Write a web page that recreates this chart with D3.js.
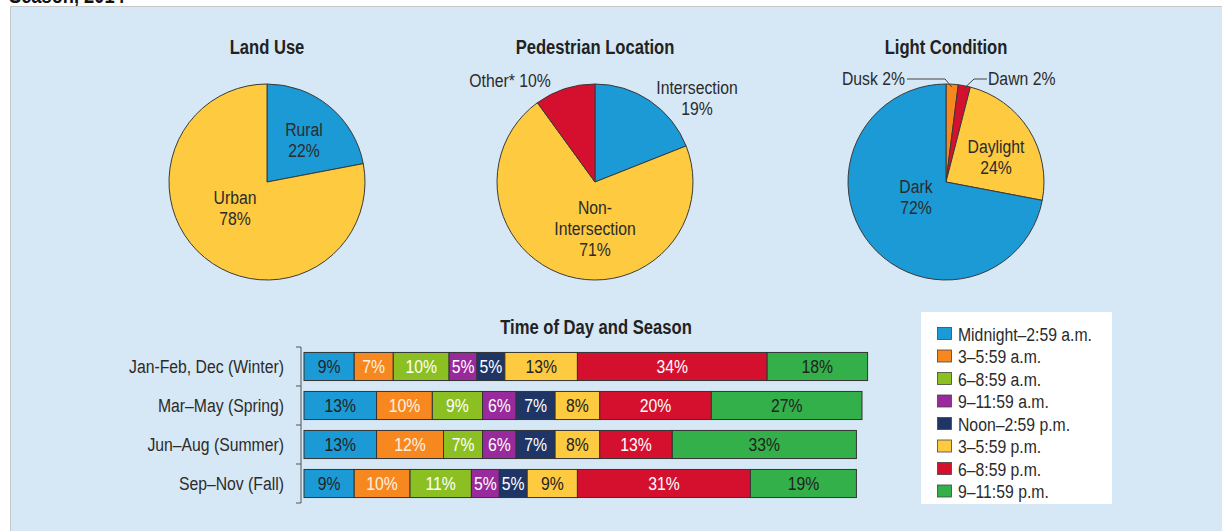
<!DOCTYPE html>
<html>
<head>
<meta charset="utf-8">
<script src="https://cdn.jsdelivr.net/npm/d3@7"></script>
<style>
  body { margin: 0; background: #fff; }
  svg text { font-family: "Liberation Sans", Arial, "DejaVu Sans Condensed", sans-serif; }
</style>
</head>
<body>
<div id="chart"></div>
<script>
// ---- data ----
var landUseLabels = ["Rural", "Urban"];
var landUseValues = [22, 78];

var pedLabels = ["Intersection", "Non-Intersection", "Other*"];
var pedValues = [19, 71, 10];

var lightLabels = ["Dusk", "Dawn", "Daylight", "Dark"];
var lightValues = [2, 2, 24, 72];

var seasons = ["Jan-Feb, Dec (Winter)", "Mar\u2013May (Spring)", "Jun\u2013Aug (Summer)", "Sep\u2013Nov (Fall)"];
var timeSlots = ["Midnight\u20132:59 a.m.", "3\u20135:59 a.m.", "6\u20138:59 a.m.", "9\u201311:59 a.m.",
                 "Noon\u20132:59 p.m.", "3\u20135:59 p.m.", "6\u20138:59 p.m.", "9\u201311:59 p.m."];
var winterValues = [9, 7, 10, 5, 5, 13, 34, 18];
var springValues = [13, 10, 9, 6, 7, 8, 20, 27];
var summerValues = [13, 12, 7, 6, 7, 8, 13, 33];
var fallValues   = [9, 10, 11, 5, 5, 9, 31, 19];

// ---- colours ----
var cBlue = "#1b9ad6", cOrange = "#f7871f", cLime = "#8cbf22", cPurple = "#992a9b",
    cNavy = "#1f3566", cYellow = "#fdca40", cRed = "#d5102f", cGreen = "#33b04a";
var slotColors = [cBlue, cOrange, cLime, cPurple, cNavy, cYellow, cRed, cGreen];
var slotTextColors = ["#222", "#fff3e0", "#fff", "#fff", "#fff", "#222", "#fff", "#222"];
var textColor = "#2b2b2b";
var fs = 18;   // regular label size

var W = 1222, H = 531;
var svg = d3.select("#chart").append("svg")
    .attr("width", W)
    .attr("height", H);

// cut-off page title + panel
svg.append("text")
    .attr("class", "bold")
    .attr("x", 9).attr("y", 3)
    .attr("font-size", 22).attr("font-weight", "bold").attr("fill", "#111")
    .text("Season, 2014");

svg.append("rect")
    .attr("x", 10.5).attr("y", 6.5)
    .attr("width", W).attr("height", H)
    .attr("fill", "#d6e8f5")
    .attr("stroke", "#c4c9cc");

// ---- pies ----
var radius = 98;
var pie = d3.pie().sort(null).value(function(d) { return d; });
var arc = d3.arc().innerRadius(0).outerRadius(radius);

function drawPie(cx, title, values, colors, labels) {
    var g = svg.append("g").attr("transform", "translate(" + cx + ",182)");
    svg.append("text")
        .attr("class", "bold")
        .attr("x", cx).attr("y", 54)
        .attr("text-anchor", "middle")
        .attr("font-size", 20).attr("font-weight", "bold").attr("fill", "#222")
        .text(title);
    var arcs = pie(values);
    g.selectAll("path")
        .data(arcs)
        .enter()
        .append("path")
        .attr("d", arc)
        .attr("fill", function(d, i) { return colors[i]; })
        .attr("stroke", "#3a3a3a")
        .attr("stroke-width", 1);
    // labels: one text per line, offsets relative to the pie centre
    labels.forEach(function(l) {
        l.lines.forEach(function(line, k) {
            g.append("text")
                .attr("class", "reg")
                .attr("x", l.dx)
                .attr("y", l.dy + k * 21)
                .attr("text-anchor", l.anchor || "middle")
                .attr("font-size", fs)
                .attr("fill", textColor)
                .text(line);
        });
    });
    return { g: g, arcs: arcs };
}

drawPie(267, "Land Use", landUseValues, [cBlue, cYellow], [
    { lines: [landUseLabels[0], landUseValues[0] + "%"], dx: 37, dy: -46 },
    { lines: [landUseLabels[1], landUseValues[1] + "%"], dx: -32, dy: 22 }
]);

drawPie(595, "Pedestrian Location", pedValues, [cBlue, cYellow, cRed], [
    { lines: [pedLabels[0], pedValues[0] + "%"], dx: 102, dy: -88 },
    { lines: ["Non-", "Intersection", pedValues[1] + "%"], dx: 0, dy: 32 },
    { lines: [pedLabels[2] + " " + pedValues[2] + "%"], dx: -85, dy: -95 }
]);

var light = drawPie(946, "Light Condition", lightValues, [cOrange, cRed, cYellow, cBlue], [
    { lines: [lightLabels[2], lightValues[2] + "%"], dx: 50, dy: -29 },
    { lines: [lightLabels[3], lightValues[3] + "%"], dx: -30, dy: 11 },
    { lines: [lightLabels[0] + " " + lightValues[0] + "%"], dx: -41, dy: -97, anchor: "end" },
    { lines: [lightLabels[1] + " " + lightValues[1] + "%"], dx: 42, dy: -97, anchor: "start" }
]);

// leader lines for the two thin slices
var edgeArc = d3.arc().innerRadius(radius - 3).outerRadius(radius - 3);
var duskPt = edgeArc.centroid(light.arcs[0]);
var dawnPt = edgeArc.centroid(light.arcs[1]);
light.g.append("polyline")
    .attr("points", [[-39, -103], [-1, -103], duskPt].join(" "))
    .attr("fill", "none").attr("stroke", "#444").attr("stroke-width", 1);
light.g.append("polyline")
    .attr("points", [dawnPt, [28, -103], [41, -103]].join(" "))
    .attr("fill", "none").attr("stroke", "#444").attr("stroke-width", 1);

// ---- stacked bars ----
var seasonTable = [winterValues, springValues, summerValues, fallValues].map(function(vals, i) {
    var row = { season: seasons[i] };
    timeSlots.forEach(function(s, j) { row[s] = vals[j]; });
    return row;
});

var x = d3.scaleLinear().domain([0, 100]).range([304, 862]);
var y = d3.scaleBand().domain(seasons).range([347, 503]).paddingInner(0.28).paddingOuter(0.14);

svg.append("text")
    .attr("class", "bold")
    .attr("x", 596).attr("y", 334)
    .attr("text-anchor", "middle")
    .attr("font-size", 20).attr("font-weight", "bold").attr("fill", "#222")
    .text("Time of Day and Season");

var series = d3.stack().keys(timeSlots)(seasonTable);

var layers = svg.selectAll(".layer")
    .data(series)
    .enter()
    .append("g")
    .attr("class", "layer");

layers.selectAll("rect")
    .data(function(d) { return d.map(function(p) { p.key = d.key; return p; }); })
    .enter()
    .append("rect")
    .attr("x", function(d) { return x(d[0]); })
    .attr("y", function(d) { return y(d.data.season); })
    .attr("width", function(d) { return x(d[1]) - x(d[0]); })
    .attr("height", y.bandwidth())
    .attr("fill", function(d) { return slotColors[timeSlots.indexOf(d.key)]; })
    .attr("stroke", "#333")
    .attr("stroke-width", 1);

layers.selectAll("text")
    .data(function(d) { return d; })
    .enter()
    .append("text")
    .attr("class", "reg")
    .attr("x", function(d) { return (x(d[0]) + x(d[1])) / 2; })
    .attr("y", function(d) { return y(d.data.season) + y.bandwidth() / 2 + 6.5; })
    .attr("text-anchor", "middle")
    .attr("font-size", fs)
    .attr("fill", function(d) { return slotTextColors[timeSlots.indexOf(d.key)]; })
    .text(function(d) { return (d[1] - d[0]) + "%"; });

// category axis: bracket with ticks at band edges
var axisX = 301;
var axisG = svg.append("g").attr("stroke", "#555").attr("stroke-width", 1);
axisG.append("line")
    .attr("x1", axisX).attr("x2", axisX)
    .attr("y1", y.range()[0]).attr("y2", y.range()[1]);
d3.range(seasons.length + 1).forEach(function(k) {
    var yy = y.range()[0] + k * y.step();
    axisG.append("line")
        .attr("x1", axisX - 5).attr("x2", axisX)
        .attr("y1", yy).attr("y2", yy);
});
svg.selectAll(".cat")
    .data(seasons)
    .enter()
    .append("text")
    .attr("class", "reg")
    .attr("x", 284)
    .attr("y", function(d) { return y(d) + y.bandwidth() / 2 + 6.5; })
    .attr("text-anchor", "end")
    .attr("font-size", fs)
    .attr("fill", textColor)
    .text(function(d) { return d; });

// ---- legend ----
var legend = svg.append("g").attr("transform", "translate(921,312)");
legend.append("rect")
    .attr("width", 191).attr("height", 192)
    .attr("fill", "#fff");
var items = legend.selectAll(".item")
    .data(timeSlots)
    .enter()
    .append("g")
    .attr("transform", function(d, i) { return "translate(16," + (22 + i * 22.5) + ")"; });
items.append("rect")
    .attr("x", 0.5).attr("y", -6.5)
    .attr("width", 14).attr("height", 12)
    .attr("fill", function(d, i) { return slotColors[i]; })
    .attr("stroke", "#444").attr("stroke-width", 0.8);
items.append("text")
    .attr("class", "reg")
    .attr("x", 21).attr("y", 6.5)
    .attr("font-size", fs)
    .attr("fill", textColor)
    .text(function(d) { return d; });

// squeeze the glyphs to look like the condensed face of the original
function condense(sel, f) {
    sel.each(function() {
        var w = this.getComputedTextLength();
        d3.select(this).attr("textLength", w * f).attr("lengthAdjust", "spacingAndGlyphs");
    });
}
condense(svg.selectAll("text.reg"), 0.875);
condense(svg.selectAll("text.bold"), 0.83);
</script>
</body>
</html>
